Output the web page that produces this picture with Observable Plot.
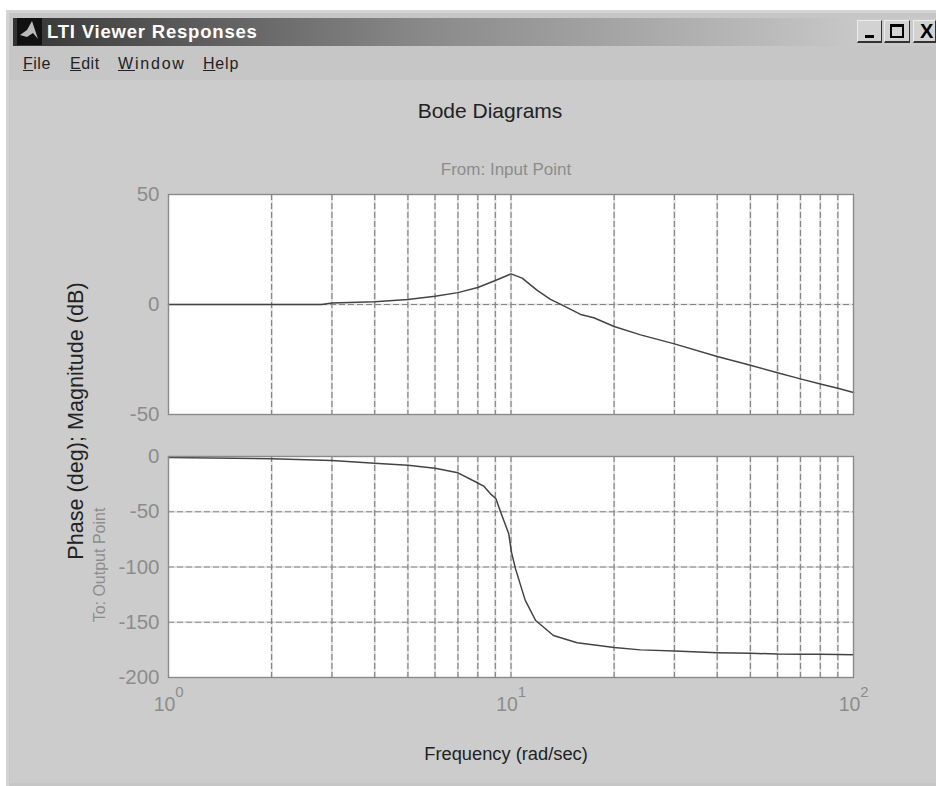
<!DOCTYPE html>
<html>
<head>
<meta charset="utf-8">
<script src="https://cdn.jsdelivr.net/npm/d3@7"></script>
<script src="https://cdn.jsdelivr.net/npm/@observablehq/plot@0.6"></script>
<style>
html,body{margin:0;padding:0;background:#fff;width:936px;height:786px;overflow:hidden;font-family:"Liberation Sans",Arial,sans-serif}
.abs{position:absolute;white-space:nowrap}
#win{left:6px;top:10px;width:930px;height:776px;background:#c6c6c6;border-top:3px solid #d4d4d4;border-left:3px solid #d4d4d4;box-sizing:border-box}
#content{left:10px;top:80px;width:926px;height:703px;background:#cccccc}
#bar{left:13px;top:18px;width:923px;height:28px;background:linear-gradient(90deg,#333 0%,#4a4a4a 10%,#8a8a8a 45%,#c8c8c8 92%,#cacaca 100%)}
#barT{left:47px;top:21px;font:bold 18.5px "Liberation Sans",Arial,sans-serif;color:#fff;letter-spacing:.8px}
.menu{top:55px;font-size:16px;color:#222}
.btn{top:20px;height:23px;box-sizing:border-box;background:#d2d2d2;border-top:1px solid #eee;border-left:1px solid #eee;border-right:1px solid #333;border-bottom:2px solid #333;color:#000}
.ink{position:absolute;box-sizing:border-box}
#title{left:0;width:980px;top:99px;text-align:center;font-size:21px;color:#222}
#from{left:0;width:1012px;top:160px;text-align:center;font-size:17px;color:#8c8c8c}
.rot{transform:translate(-50%,-50%) rotate(-90deg)}
</style>
</head>
<body>
<div class="abs" id="win"></div>
<div class="abs" id="content"></div>
<div class="abs" id="bar"></div>
<svg class="abs" style="left:17px;top:18px" width="25" height="27"><rect width="25" height="27" fill="#111"/><path d="M3 17 L10 12 L15 3 L21 21 L16 15 L10 19Z" fill="#bbb"/></svg>
<div class="abs" id="barT">LTI Viewer Responses</div>
<div class="abs menu" style="left:23px;letter-spacing:.5px"><u>F</u>ile</div>
<div class="abs menu" style="left:70px;letter-spacing:.5px"><u>E</u>dit</div>
<div class="abs menu" style="left:118px;letter-spacing:1.8px"><u>W</u>indow</div>
<div class="abs menu" style="left:203px;letter-spacing:.8px"><u>H</u>elp</div>
<div class="abs btn" style="left:857px;width:25px"><div class="ink" style="left:7px;top:14px;width:9px;height:3px;background:#000"></div></div>
<div class="abs btn" style="left:884px;width:26px"><div class="ink" style="left:5px;top:3px;width:14px;height:14px;border:2px solid #000;border-top-width:3px"></div></div>
<div class="abs btn" style="left:913px;width:23px;font:bold 20px/21px 'Liberation Sans';text-indent:6px;overflow:hidden">X</div>
<div class="abs" id="title">Bode Diagrams</div>
<div class="abs" id="from">From: Input Point</div>
<div class="abs rot" style="left:76px;top:421px;font-size:21.6px;color:#222">Phase (deg); Magnitude (dB)</div>
<div class="abs rot" style="left:100px;top:565px;font-size:16px;color:#8c8c8c">To: Output Point</div>
<div id="top"></div>
<div id="bottom"></div>
<script>
const magFreq = [1,2,2.8,3,4,5,6,7,8,9,10,10.78,11.93,13.04,14.26,15.96,17.45,20,23.9,30,40,50,60,70,80,90,100];
const magDb   = [0,0,0,0.7,1.3,2.3,3.8,5.4,7.7,10.9,13.9,12,6.4,2.3,-0.6,-4.5,-6,-10,-13.8,-17.9,-23.6,-27.6,-31,-33.8,-36.1,-38.1,-40];
const phaseFreq = [1,2,3,4,5,6,7,8,8.32,8.71,9.03,9.32,9.85,10.03,10.31,11,11.8,13.3,15.6,20,23.9,30,40,50,60,70,80,90,100];
const phaseDeg  = [-1,-2,-3.6,-6,-8,-10.6,-14.8,-24,-26.8,-33.8,-38,-50,-70,-86.6,-101.7,-130,-148.4,-162,-168.6,-172.9,-175,-176,-177.5,-178,-178.8,-179,-179,-179.2,-179.5];
const gridFreq = [2,3,4,5,6,7,8,9,10,20,30,40,50,60,70,80,90];
const decades = [1,10,100];
const decadeExp = ["0","1","2"];
const magTicks = [-50,0,50];
const magGrid = [0];
const phaseTicks = [-200,-150,-100,-50,0];
const phaseGrid = [-150,-100,-50];

const GRAY = "#8c8c8c";
const common = {width:936, marginLeft:168, marginRight:83};
const xScale = {type:"log", domain:[1,100]};
const svgStyle = top => ({background:"transparent",overflow:"visible",position:"absolute",left:"0px",top:top+"px",fontFamily:"'Liberation Sans',Arial,sans-serif"});
function gridMarks(yGrid){
  return [
    Plot.frame({fill:"white", stroke:null}),
    Plot.ruleX(gridFreq,{stroke:"#e2e2e2",strokeWidth:2.2}),
    Plot.ruleY(yGrid,{stroke:"#e2e2e2",strokeWidth:2.2}),
    Plot.ruleX(gridFreq,{stroke:"#868686",strokeWidth:1.2,strokeDasharray:"6,3"}),
    Plot.ruleY(yGrid,{stroke:"#868686",strokeWidth:1.2,strokeDasharray:"6,3"})
  ];
}
const topPlot = Plot.plot({...common, style:svgStyle(160), height:270, marginTop:34, marginBottom:16, x:{...xScale,axis:null}, y:{domain:[-50,50]},
  marks:[
    ...gridMarks(magGrid),
    Plot.axisY(magTicks,{tickSize:0,tickPadding:9,fontSize:20.5,fill:GRAY,label:null,tickFormat:d=>String(d)}),
    Plot.line(magFreq.map((f,i)=>[f,magDb[i]]),{x:"0",y:"1",stroke:"#444",strokeWidth:1.5,curve:"linear"}),
    Plot.frame({stroke:"#8a8a8a",strokeWidth:1.4})
  ]});
const botPlot = Plot.plot({...common, style:svgStyle(440), height:346, marginTop:16, marginBottom:109, x:{...xScale,axis:null}, y:{domain:[-200,0]},
  marks:[
    ...gridMarks(phaseGrid),
    Plot.axisY(phaseTicks,{tickSize:0,tickPadding:9,fontSize:20.5,fill:GRAY,label:null,tickFormat:d=>String(d)}),
    Plot.text(decades,{x:d=>d,frameAnchor:"bottom",text:()=>"10",dy:20,dx:-4,fontSize:19.5,fill:GRAY,lineAnchor:"top"}),
    Plot.text(decades,{x:d=>d,frameAnchor:"bottom",text:(d,i)=>decadeExp[i],dy:9,dx:11,fontSize:15,fill:GRAY,lineAnchor:"top"}),
    Plot.text(["Frequency (rad/sec)"],{frameAnchor:"bottom",text:d=>d,dy:69,dx:-5,fontSize:18.3,fill:"#222",lineAnchor:"top"}),
    Plot.line(phaseFreq.map((f,i)=>[f,phaseDeg[i]]),{x:"0",y:"1",stroke:"#444",strokeWidth:1.5,curve:"linear"}),
    Plot.frame({stroke:"#8a8a8a",strokeWidth:1.4})
  ]});
document.getElementById("top").append(topPlot);
document.getElementById("bottom").append(botPlot);
</script>
</body>
</html>
